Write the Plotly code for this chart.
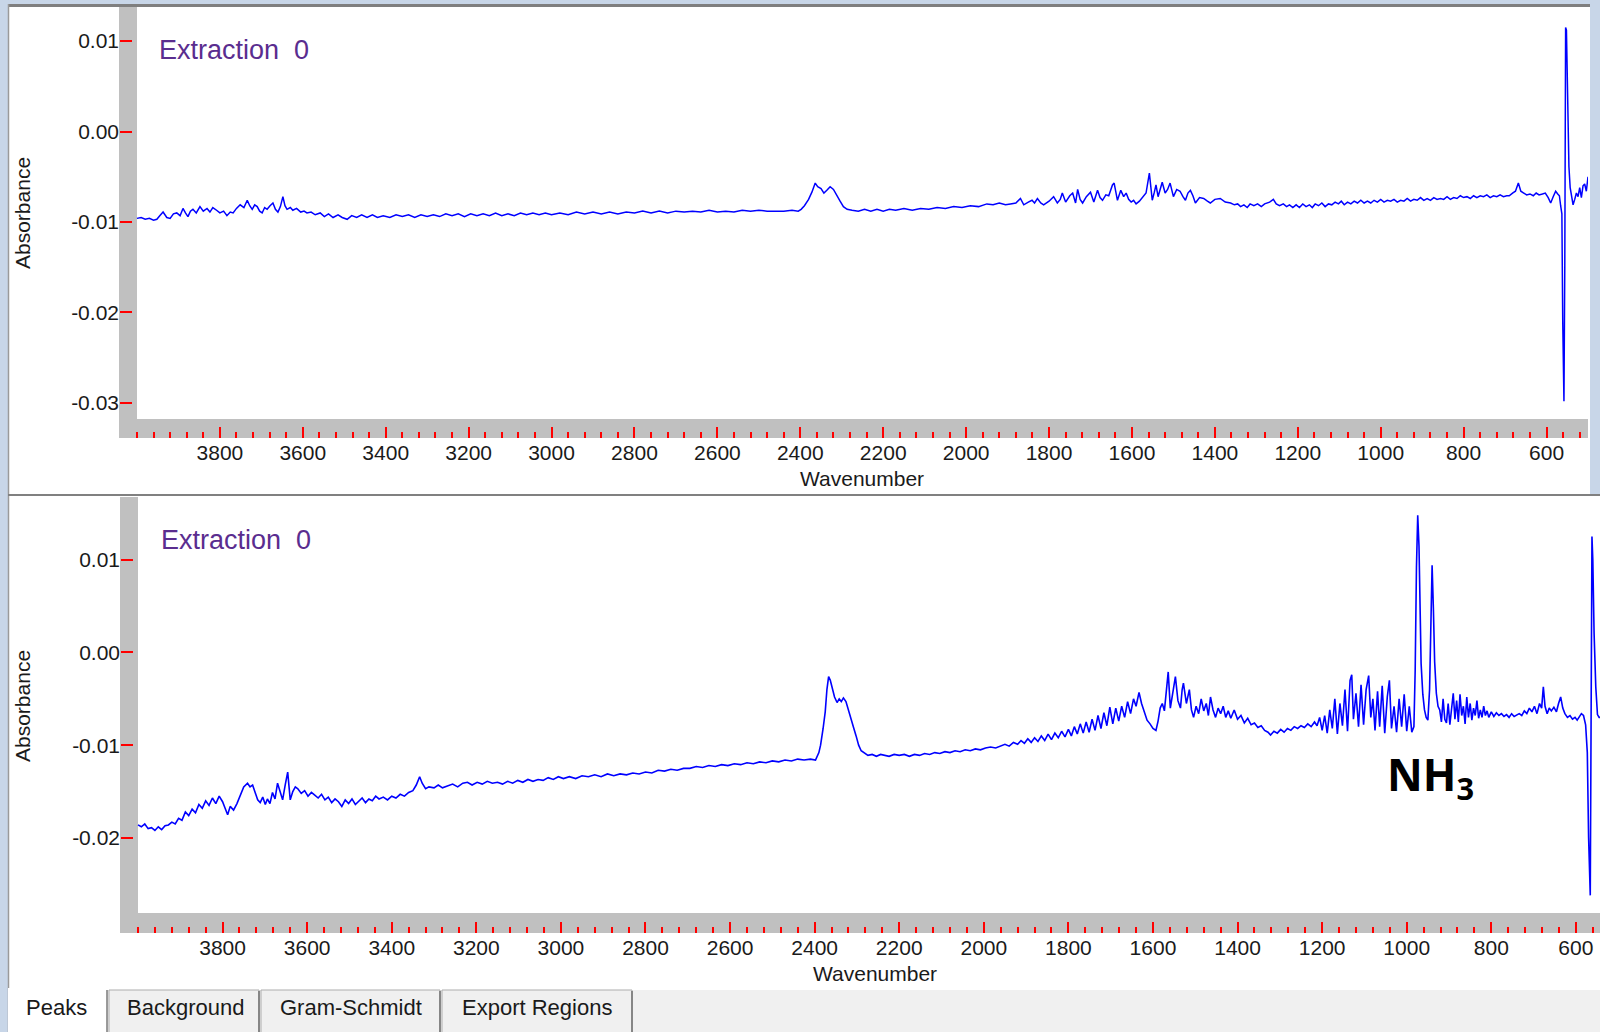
import plotly.graph_objects as go

W, H = 1600, 1032
def X(px): return px / W
def Y(py): return 1 - py / H

# ---------------- data (wavenumber, absorbance) ----------------
top_spectrum = [
(4000,-0.0096),(3990,-0.0095),(3980,-0.0097),(3970,-0.0096),(3960,-0.0098),(3952,-0.0097),(3945,-0.0093),
(3937,-0.0089),(3928,-0.0095),(3920,-0.0096),(3912,-0.0091),(3904,-0.0090),(3896,-0.0093),(3889,-0.0085),
(3883,-0.0090),(3877,-0.0094),(3871,-0.0088),(3865,-0.0086),(3857,-0.0090),(3848,-0.0083),(3840,-0.0088),
(3831,-0.0085),(3824,-0.0089),(3817,-0.0084),(3808,-0.0087),(3800,-0.0090),(3791,-0.0088),(3783,-0.0093),
(3775,-0.0089),(3768,-0.0090),(3760,-0.0085),(3751,-0.0081),(3742,-0.0084),(3734,-0.0076),(3728,-0.0082),
(3722,-0.0086),(3716,-0.0081),(3710,-0.0083),(3704,-0.0088),(3698,-0.0090),(3692,-0.0084),(3686,-0.0086),
(3679,-0.0082),(3672,-0.0079),(3666,-0.0086),(3660,-0.0089),(3654,-0.0083),(3648,-0.0072),(3643,-0.0082),
(3638,-0.0086),(3630,-0.0084),(3624,-0.0087),(3615,-0.0085),(3605,-0.0089),(3597,-0.0088),(3590,-0.0090),
(3580,-0.0089),(3570,-0.0092),(3558,-0.0090),(3548,-0.0094),(3538,-0.0091),(3527,-0.0095),(3515,-0.0092),
(3505,-0.0095),(3493,-0.0097),(3482,-0.0093),(3470,-0.0095),(3458,-0.0092),(3445,-0.0095),(3432,-0.0092),
(3420,-0.0095),(3406,-0.0093),(3390,-0.0095),(3375,-0.0092),(3360,-0.0094),(3345,-0.0092),(3330,-0.0095),
(3315,-0.0092),(3300,-0.0094),(3285,-0.0092),(3270,-0.0094),(3255,-0.0091),(3240,-0.0093),(3225,-0.0091),
(3210,-0.0094),(3195,-0.0091),(3180,-0.0093),(3165,-0.0091),(3150,-0.0093),(3135,-0.0090),(3120,-0.0093),
(3105,-0.0091),(3090,-0.0093),(3075,-0.0090),(3060,-0.0092),(3045,-0.0090),(3030,-0.0092),(3015,-0.0090),
(3000,-0.0092),(2980,-0.0090),(2960,-0.0092),(2940,-0.0089),(2920,-0.0091),(2900,-0.0089),(2880,-0.0091),
(2860,-0.0089),(2840,-0.0091),(2820,-0.0089),(2800,-0.0090),(2780,-0.0088),(2760,-0.0090),(2740,-0.0088),
(2720,-0.0090),(2700,-0.0088),(2680,-0.0089),(2660,-0.0088),(2640,-0.0089),(2620,-0.0087),(2600,-0.0089),
(2580,-0.0088),(2560,-0.0089),(2540,-0.0087),(2520,-0.0088),(2500,-0.0087),(2480,-0.0088),(2460,-0.0088),
(2440,-0.0088),(2420,-0.0087),(2405,-0.0088),(2398,-0.0086),(2390,-0.0082),(2380,-0.0075),(2372,-0.0067),
(2364,-0.0057),(2358,-0.0061),(2350,-0.0063),(2343,-0.0068),(2336,-0.0065),(2328,-0.0061),(2320,-0.0064),
(2312,-0.0071),(2304,-0.0077),(2296,-0.0083),(2287,-0.0086),(2275,-0.0087),(2260,-0.0088),(2245,-0.0086),
(2230,-0.0088),(2215,-0.0086),(2200,-0.0088),(2185,-0.0086),(2170,-0.0087),(2150,-0.0085),(2130,-0.0087),
(2110,-0.0085),(2090,-0.0086),(2070,-0.0084),(2050,-0.0085),(2030,-0.0083),(2010,-0.0084),(1990,-0.0082),
(1970,-0.0083),(1950,-0.0080),(1935,-0.0081),(1920,-0.0079),(1905,-0.0081),(1893,-0.0080),(1880,-0.0079),
(1869,-0.0074),(1861,-0.0081),(1850,-0.0078),(1841,-0.0076),(1835,-0.0079),(1828,-0.0074),(1820,-0.0079),
(1813,-0.0081),(1800,-0.0077),(1789,-0.0072),(1780,-0.0079),(1773,-0.0075),(1768,-0.0068),(1760,-0.0078),
(1750,-0.0071),(1743,-0.0068),(1736,-0.0079),(1731,-0.0064),(1725,-0.0075),(1719,-0.0079),(1710,-0.0072),
(1700,-0.0067),(1692,-0.0078),(1683,-0.0065),(1677,-0.0073),(1671,-0.0076),(1663,-0.0070),(1656,-0.0071),
(1647,-0.0059),(1643,-0.0057),(1635,-0.0076),(1627,-0.0065),(1620,-0.0072),(1614,-0.0068),(1608,-0.0075),
(1602,-0.0078),(1596,-0.0076),(1590,-0.0080),(1582,-0.0077),(1574,-0.0072),(1566,-0.0068),(1558,-0.0046),
(1551,-0.0076),(1546,-0.0067),(1542,-0.0059),(1537,-0.0072),(1532,-0.0065),(1527,-0.0056),(1520,-0.0068),
(1514,-0.0064),(1508,-0.0057),(1500,-0.0072),(1492,-0.0064),(1484,-0.0066),(1477,-0.0072),(1471,-0.0076),
(1465,-0.0068),(1459,-0.0065),(1453,-0.0071),(1447,-0.0079),(1437,-0.0073),(1427,-0.0074),(1418,-0.0077),
(1411,-0.0079),(1400,-0.0075),(1387,-0.0074),(1375,-0.0078),(1362,-0.0079),(1353,-0.0081),(1345,-0.0080),
(1338,-0.0083),(1330,-0.0081),(1322,-0.0084),(1315,-0.0080),(1306,-0.0082),(1297,-0.0080),(1288,-0.0083),
(1280,-0.0080),(1268,-0.0078),(1259,-0.0075),(1252,-0.0080),(1244,-0.0082),(1235,-0.0080),(1227,-0.0083),
(1220,-0.0081),(1212,-0.0084),(1204,-0.0081),(1196,-0.0084),(1188,-0.0080),(1180,-0.0083),(1172,-0.0081),
(1165,-0.0084),(1158,-0.0080),(1150,-0.0082),(1142,-0.0079),(1134,-0.0083),(1126,-0.0080),(1118,-0.0081),
(1110,-0.0078),(1102,-0.0080),(1095,-0.0077),(1088,-0.0081),(1080,-0.0078),(1072,-0.0080),(1064,-0.0077),
(1056,-0.0079),(1048,-0.0076),(1040,-0.0079),(1032,-0.0077),(1024,-0.0079),(1016,-0.0076),(1008,-0.0078),
(1000,-0.0075),(992,-0.0078),(984,-0.0076),(976,-0.0077),(968,-0.0075),(960,-0.0078),(952,-0.0076),
(944,-0.0077),(936,-0.0074),(928,-0.0077),(920,-0.0075),(912,-0.0076),(904,-0.0073),(896,-0.0076),
(888,-0.0074),(880,-0.0076),(872,-0.0073),(864,-0.0075),(856,-0.0074),(848,-0.0075),(840,-0.0072),
(832,-0.0075),(824,-0.0073),(816,-0.0074),(808,-0.0071),(800,-0.0073),(792,-0.0072),(784,-0.0074),
(776,-0.0071),(768,-0.0073),(760,-0.0071),(752,-0.0072),(744,-0.0070),(736,-0.0073),(728,-0.0071),
(720,-0.0072),(712,-0.0070),(704,-0.0072),(696,-0.0071),(690,-0.0071),(682,-0.0068),(675,-0.0066),
(668,-0.0057),(662,-0.0066),(655,-0.0068),(648,-0.0070),(640,-0.0069),(632,-0.0071),(625,-0.0068),
(618,-0.0070),(610,-0.0069),(603,-0.0068),(596,-0.0073),(590,-0.0079),(584,-0.0072),(578,-0.0066),
(573,-0.0069),(569,-0.0071),(566,-0.0082),(563,-0.0091),(561,-0.0208),(558,-0.0298),(556,-0.0150),
(554,0.0115),(552,0.0112),(551,0.0087),(549,0.0060),(548,0.0013),(546,-0.0039),(543,-0.0062),
(540,-0.0070),(536,-0.0081),(532,-0.0075),(528,-0.0068),(524,-0.0072),(520,-0.0062),(516,-0.0073),
(512,-0.0060),(508,-0.0058),(504,-0.0066),(500,-0.0050),
]

bottom_spectrum = [
(4000,-0.0186),(3992,-0.0188),(3984,-0.0185),(3976,-0.0190),(3968,-0.0189),(3960,-0.0192),(3952,-0.0188),
(3944,-0.0191),(3936,-0.0187),(3928,-0.0186),(3920,-0.0183),(3912,-0.0185),(3904,-0.0179),(3896,-0.0181),
(3888,-0.0172),(3880,-0.0176),(3872,-0.0169),(3864,-0.0173),(3856,-0.0164),(3848,-0.0168),(3840,-0.0160),
(3832,-0.0165),(3824,-0.0157),(3816,-0.0163),(3808,-0.0155),(3800,-0.0161),(3794,-0.0168),(3788,-0.0175),
(3782,-0.0166),(3774,-0.0170),(3766,-0.0163),(3758,-0.0154),(3750,-0.0145),(3741,-0.0141),(3735,-0.0145),
(3729,-0.0143),(3723,-0.0152),(3717,-0.0159),(3711,-0.0162),(3705,-0.0156),(3699,-0.0164),(3694,-0.0158),
(3688,-0.0163),(3682,-0.0151),(3676,-0.0158),(3670,-0.0141),(3664,-0.0150),(3658,-0.0159),(3652,-0.0143),
(3646,-0.0129),(3640,-0.0159),(3634,-0.0150),(3628,-0.0145),(3622,-0.0147),(3614,-0.0152),(3606,-0.0149),
(3598,-0.0155),(3590,-0.0151),(3582,-0.0154),(3574,-0.0157),(3566,-0.0153),(3558,-0.0159),(3550,-0.0156),
(3542,-0.0162),(3534,-0.0158),(3526,-0.0161),(3518,-0.0166),(3510,-0.0159),(3502,-0.0163),(3494,-0.0158),
(3486,-0.0164),(3478,-0.0160),(3470,-0.0157),(3462,-0.0162),(3454,-0.0158),(3446,-0.0160),(3438,-0.0155),
(3430,-0.0158),(3420,-0.0156),(3410,-0.0159),(3400,-0.0155),(3390,-0.0157),(3380,-0.0153),(3370,-0.0155),
(3360,-0.0151),(3350,-0.0149),(3342,-0.0143),(3334,-0.0134),(3328,-0.0141),(3320,-0.0147),(3312,-0.0145),
(3300,-0.0146),(3290,-0.0143),(3280,-0.0146),(3268,-0.0144),(3256,-0.0142),(3244,-0.0145),(3232,-0.0141),
(3221,-0.0140),(3210,-0.0143),(3198,-0.0140),(3186,-0.0142),(3174,-0.0139),(3162,-0.0141),(3150,-0.0140),
(3138,-0.0142),(3126,-0.0139),(3114,-0.0141),(3102,-0.0138),(3090,-0.0140),(3078,-0.0137),(3066,-0.0139),
(3054,-0.0137),(3042,-0.0138),(3030,-0.0135),(3018,-0.0137),(3006,-0.0134),(2994,-0.0136),(2980,-0.0134),
(2965,-0.0136),(2950,-0.0133),(2935,-0.0134),(2920,-0.0132),(2905,-0.0134),(2890,-0.0131),(2875,-0.0133),
(2860,-0.0131),(2845,-0.0132),(2830,-0.0130),(2815,-0.0131),(2800,-0.0129),(2785,-0.0130),(2770,-0.0127),
(2755,-0.0128),(2740,-0.0126),(2725,-0.0127),(2710,-0.0125),(2695,-0.0125),(2680,-0.0123),(2665,-0.0124),
(2650,-0.0122),(2635,-0.0123),(2620,-0.0121),(2605,-0.0122),(2590,-0.0120),(2575,-0.0121),(2560,-0.0119),
(2545,-0.0120),(2530,-0.0118),(2515,-0.0119),(2500,-0.0117),(2485,-0.0118),(2470,-0.0116),(2455,-0.0117),
(2440,-0.0115),(2425,-0.0116),(2410,-0.0115),(2398,-0.0116),(2390,-0.0108),(2386,-0.0100),(2380,-0.0082),
(2375,-0.0064),(2371,-0.0040),(2367,-0.0026),(2363,-0.0030),(2358,-0.0040),(2353,-0.0048),(2347,-0.0054),
(2342,-0.0050),(2337,-0.0053),(2332,-0.0049),(2326,-0.0053),(2320,-0.0063),(2314,-0.0072),(2308,-0.0081),
(2302,-0.0090),(2296,-0.0100),(2290,-0.0106),(2282,-0.0109),(2274,-0.0111),(2264,-0.0110),(2254,-0.0112),
(2244,-0.0110),(2234,-0.0111),(2224,-0.0112),(2212,-0.0110),(2200,-0.0111),(2188,-0.0110),(2176,-0.0112),
(2164,-0.0110),(2152,-0.0111),(2140,-0.0109),(2128,-0.0110),(2116,-0.0108),(2104,-0.0109),(2092,-0.0107),
(2080,-0.0108),(2068,-0.0106),(2056,-0.0107),(2044,-0.0105),(2032,-0.0106),(2020,-0.0104),(2008,-0.0105),
(1996,-0.0103),(1984,-0.0102),(1972,-0.0103),(1960,-0.0101),(1950,-0.0099),(1940,-0.0101),(1930,-0.0097),
(1920,-0.0099),(1912,-0.0095),(1904,-0.0098),(1896,-0.0093),(1888,-0.0097),(1880,-0.0092),(1872,-0.0096),
(1864,-0.0090),(1856,-0.0095),(1848,-0.0088),(1840,-0.0094),(1832,-0.0087),(1824,-0.0092),(1816,-0.0085),
(1808,-0.0091),(1800,-0.0083),(1793,-0.0090),(1786,-0.0080),(1779,-0.0088),(1772,-0.0077),(1765,-0.0087),
(1758,-0.0075),(1751,-0.0086),(1744,-0.0072),(1737,-0.0084),(1730,-0.0068),(1723,-0.0082),(1716,-0.0065),
(1709,-0.0079),(1702,-0.0059),(1695,-0.0077),(1688,-0.0060),(1681,-0.0074),(1674,-0.0058),(1667,-0.0070),
(1660,-0.0053),(1653,-0.0066),(1646,-0.0050),(1640,-0.0058),(1633,-0.0043),(1627,-0.0055),(1620,-0.0066),
(1614,-0.0073),(1607,-0.0077),(1600,-0.0082),(1593,-0.0084),(1588,-0.0074),(1583,-0.0060),(1578,-0.0055),
(1573,-0.0063),(1568,-0.0040),(1564,-0.0021),(1559,-0.0060),(1553,-0.0043),(1547,-0.0026),(1541,-0.0052),
(1535,-0.0060),(1531,-0.0040),(1528,-0.0033),(1521,-0.0055),(1514,-0.0040),(1509,-0.0062),(1504,-0.0070),
(1498,-0.0058),(1492,-0.0066),(1486,-0.0050),(1480,-0.0063),(1474,-0.0055),(1469,-0.0068),(1464,-0.0048),
(1458,-0.0062),(1452,-0.0070),(1446,-0.0060),(1440,-0.0066),(1434,-0.0058),(1428,-0.0070),(1422,-0.0063),
(1416,-0.0071),(1408,-0.0062),(1400,-0.0072),(1392,-0.0068),(1384,-0.0076),(1376,-0.0071),(1368,-0.0078),
(1360,-0.0076),(1352,-0.0081),(1344,-0.0079),(1336,-0.0084),(1328,-0.0086),(1322,-0.0089),(1314,-0.0085),
(1306,-0.0087),(1298,-0.0083),(1290,-0.0086),(1282,-0.0082),(1274,-0.0084),(1266,-0.0080),(1258,-0.0082),
(1250,-0.0079),(1242,-0.0081),(1234,-0.0077),(1226,-0.0080),(1218,-0.0075),(1212,-0.0079),(1206,-0.0070),
(1200,-0.0084),(1194,-0.0068),(1188,-0.0087),(1182,-0.0062),(1176,-0.0082),(1170,-0.0050),(1164,-0.0088),
(1158,-0.0055),(1152,-0.0079),(1146,-0.0040),(1140,-0.0085),(1134,-0.0030),(1130,-0.0024),(1126,-0.0072),
(1120,-0.0044),(1114,-0.0080),(1108,-0.0035),(1102,-0.0078),(1096,-0.0040),(1090,-0.0025),(1085,-0.0070),
(1080,-0.0050),(1075,-0.0084),(1069,-0.0042),(1064,-0.0080),(1058,-0.0036),(1052,-0.0087),(1046,-0.0048),
(1041,-0.0030),(1036,-0.0082),(1030,-0.0058),(1024,-0.0086),(1018,-0.0050),(1012,-0.0080),(1006,-0.0045),
(1000,-0.0085),(994,-0.0058),(988,-0.0086),(983,-0.0080),(980,-0.0019),(977,0.0092),(974,0.0148),
(971,0.0115),(969,0.0076),(966,-0.0012),(962,-0.0045),(958,-0.0062),(954,-0.0070),(950,-0.0073),
(946,-0.0040),(943,0.0032),(940,0.0094),(937,0.0048),(934,-0.0010),(930,-0.0044),(926,-0.0058),
(922,-0.0062),(918,-0.0075),(914,-0.0050),(910,-0.0072),(906,-0.0076),(902,-0.0055),(898,-0.0078),
(894,-0.0062),(890,-0.0044),(886,-0.0072),(882,-0.0052),(878,-0.0075),(874,-0.0045),(870,-0.0068),
(866,-0.0058),(862,-0.0077),(858,-0.0048),(854,-0.0070),(850,-0.0055),(846,-0.0073),(842,-0.0060),
(838,-0.0068),(834,-0.0052),(830,-0.0071),(826,-0.0062),(822,-0.0070),(818,-0.0058),(814,-0.0068),
(810,-0.0063),(806,-0.0070),(800,-0.0064),(794,-0.0069),(788,-0.0065),(782,-0.0068),(776,-0.0066),
(770,-0.0069),(764,-0.0067),(758,-0.0070),(752,-0.0066),(746,-0.0069),(740,-0.0067),(734,-0.0066),
(728,-0.0068),(722,-0.0063),(716,-0.0066),(710,-0.0060),(704,-0.0064),(698,-0.0058),(692,-0.0066),
(686,-0.0055),(681,-0.0060),(677,-0.0037),(673,-0.0058),(668,-0.0066),(663,-0.0060),(658,-0.0063),
(652,-0.0059),(646,-0.0064),(641,-0.0055),(636,-0.0048),(631,-0.0060),(626,-0.0066),(620,-0.0070),
(614,-0.0068),(608,-0.0072),(602,-0.0070),(597,-0.0073),(592,-0.0070),(587,-0.0066),(582,-0.0068),
(577,-0.0078),(573,-0.0108),(570,-0.0199),(566,-0.0262),(564,-0.0065),(562,0.0125),(560,0.0100),
(557,0.0021),(553,-0.0037),(549,-0.0067),(545,-0.0070),(543,-0.0070),
]

top_wn = [p[0] for p in top_spectrum]
top_abs = [p[1] for p in top_spectrum]
bottom_wn = [p[0] for p in bottom_spectrum]
bottom_abs = [p[1] for p in bottom_spectrum]

x_tick_vals = [3800, 3600, 3400, 3200, 3000, 2800, 2600, 2400, 2200, 2000,
               1800, 1600, 1400, 1200, 1000, 800, 600]
x_tick_text = [str(v) for v in x_tick_vals]
x_edge_tick = [4000]
top_y_vals = [0.01, 0.0, -0.01, -0.02, -0.03]
top_y_text = ["0.01", "0.00", "-0.01", "-0.02", "-0.03"]
bottom_y_vals = [0.01, 0.0, -0.01, -0.02]
bottom_y_text = ["0.01", "0.00", "-0.01", "-0.02"]

panel_title = "Extraction\u00a0 0"
x_title = "Wavenumber"
y_title = "Absorbance"
tab_labels = ["Peaks", "Background", "Gram-Schmidt", "Export Regions"]
compound_label = "NH<sub>3</sub>"

# ---------------- styling ----------------
FONT = "Liberation Sans, Arial, sans-serif"
TXT = "#1a1a1a"
GREY = "#c0c0c0"
RED = "#ff0000"
BLUE = "#0000ff"
PURPLE = "#5a2d8f"
WIN_BG = "#c8d6e8"

fig = go.Figure()
fig.add_trace(go.Scatter(x=top_wn, y=top_abs, mode="lines", xaxis="x", yaxis="y",
                         line=dict(color=BLUE, width=1.5), showlegend=False, hoverinfo="skip"))
fig.add_trace(go.Scatter(x=bottom_wn, y=bottom_abs, mode="lines", xaxis="x2", yaxis="y2",
                         line=dict(color=BLUE, width=1.6), showlegend=False, hoverinfo="skip"))

tickfont = dict(family=FONT, size=21, color=TXT)
# plot areas start ~1.7px left of the 4000 tick so the edge tick is not clipped
TOP_XD = [X(135.3), X(1588)]
TOP_XR = [4004, 500]
BOT_XD = [X(136.3), 1.0]
BOT_XR = [4004, 543]

def xax(domain, rng, pos):
    return dict(domain=domain, range=rng, anchor="free", position=pos,
                tickmode="array", tickvals=x_tick_vals, ticktext=x_tick_text,
                ticks="inside", ticklen=11, tickwidth=2, tickcolor=RED,
                minor=dict(tickmode="linear", tick0=4000, dtick=40, ticks="inside",
                           ticklen=6, tickwidth=2, tickcolor=RED, showgrid=False),
                showgrid=False, zeroline=False, showline=False, tickfont=tickfont)

def xedge(domain, rng, pos, over):
    return dict(domain=domain, range=rng, anchor="free", position=pos, overlaying=over,
                tickmode="array", tickvals=x_edge_tick, showticklabels=False,
                ticks="inside", ticklen=11, tickwidth=2, tickcolor=RED,
                showgrid=False, zeroline=False, showline=False)

def yax(domain, rng, pos, vals, text):
    return dict(domain=domain, range=rng, anchor="free", position=pos,
                tickmode="array", tickvals=vals, ticktext=text,
                ticks="inside", ticklen=12, tickwidth=2, tickcolor=RED,
                showgrid=False, zeroline=False, showline=False, tickfont=tickfont)

shapes = []
def rect(x0, y0, x1, y1, fill, line_color=None, lw=0):
    shapes.append(dict(type="rect", xref="paper", yref="paper",
                       x0=X(x0), x1=X(x1), y0=Y(y1), y1=Y(y0), fillcolor=fill,
                       line=dict(color=line_color or fill, width=lw), layer="below"))
def hline(x0, x1, y, color, w):
    shapes.append(dict(type="line", xref="paper", yref="paper", x0=X(x0), x1=X(x1),
                       y0=Y(y), y1=Y(y), line=dict(color=color, width=w), layer="below"))
def vline(x, y0, y1, color, w):
    shapes.append(dict(type="line", xref="paper", yref="paper", x0=X(x), x1=X(x),
                       y0=Y(y0), y1=Y(y1), line=dict(color=color, width=w), layer="below"))

# window background and panels
rect(0, 0, 1600, 1032, WIN_BG)
rect(8, 4, 1590, 495, "#ffffff")
rect(8, 495, 1600, 990, "#ffffff")
rect(8, 990, 1600, 1032, "#f0f0f0")
rect(8, 4, 1590, 7, "#7f7f7f")
vline(8.5, 4, 1032, "#9a9a9a", 1.5)
hline(8, 1600, 495, "#808080", 2)
# grey axis bands
rect(119, 7, 137, 438, GREY)
rect(119, 419, 1588, 438, GREY)
rect(120, 497, 138, 933, GREY)
rect(120, 913, 1600, 933, GREY)
# tabs
rect(8, 988, 107, 1032, "#ffffff")
vline(107, 990, 1032, "#7a7a7a", 1.5)
for (a, b) in [(109, 259), (261, 440), (442, 632)]:
    rect(a, 990, b, 1034, "#f0f0f0", "#adadad", 1)
    vline(b, 991, 1032, "#6e6e6e", 1.5)

annotations = []
def text(s, x, y, size, color=TXT, xanchor="center", yanchor="middle", angle=0, family=FONT, bold=False):
    annotations.append(dict(text=("<b>%s</b>" % s) if bold else s, xref="paper", yref="paper",
                            x=X(x), y=Y(y), xanchor=xanchor, yanchor=yanchor, showarrow=False,
                            textangle=angle, font=dict(family=family, size=size, color=color)))

text(panel_title, 157, 50, 27, PURPLE, xanchor="left")
text(panel_title, 159, 540, 27, PURPLE, xanchor="left")
text(x_title, 862, 479, 21)
text(x_title, 875, 973, 21)
text(y_title, 22, 213, 21, angle=-90)
text(y_title, 22, 706, 21, angle=-90)
tab_centers = [56, 185, 351, 537]
for lab, cx in zip(tab_labels, tab_centers):
    text(lab, cx, 1007, 22)
text(compound_label, 1385, 776, 44, "#000000", xanchor="left", family="Open Sans, sans-serif", bold=True)

fig.update_layout(
    width=W, height=H, margin=dict(l=0, r=0, t=0, b=0),
    paper_bgcolor="#ffffff", plot_bgcolor="rgba(0,0,0,0)",
    xaxis=xax(TOP_XD, TOP_XR, Y(437.5)),
    yaxis=yax([Y(419), Y(7)], [-0.03177, 0.01376], X(119), top_y_vals, top_y_text),
    xaxis2=xax(BOT_XD, BOT_XR, Y(932.5)),
    yaxis2=yax([Y(914), Y(497)], [-0.02821, 0.01677], X(120), bottom_y_vals, bottom_y_text),
    xaxis3=xedge(TOP_XD, TOP_XR, Y(437.5), "x"),
    xaxis4=xedge(BOT_XD, BOT_XR, Y(932.5), "x2"),
    shapes=shapes, annotations=annotations, showlegend=False,
)

fig.write_html("out.html")
